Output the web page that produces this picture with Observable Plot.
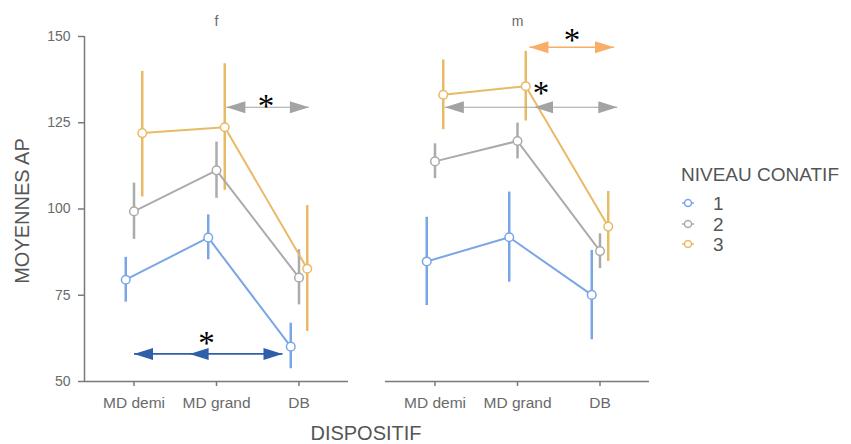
<!DOCTYPE html>
<html><head><meta charset="utf-8">
<script src="https://cdn.jsdelivr.net/npm/d3@7"></script>
<script src="https://cdn.jsdelivr.net/npm/@observablehq/plot@0.6"></script>
<style>
body{margin:0;background:#fff;font-family:"Liberation Sans",Arial,sans-serif;}
#wrap{position:relative;width:851px;height:444px;overflow:hidden;}
#wrap svg.plot{position:absolute;left:0;top:0;}
.lbl{position:absolute;color:#555;white-space:nowrap;line-height:1;}
</style></head><body><div id="wrap"></div>
<script>
// ---- data ----
const dispositifs = ["MD demi", "MD grand", "DB"];
const sexes = ["f", "m"];
const niveaux = ["1", "2", "3"];
const yTicks = [50, 75, 100, 125, 150];
// values in order: f/MD demi, f/MD grand, f/DB, m/MD demi, m/MD grand, m/DB
const mean1 = [79.5, 91.7, 60.1, 84.8, 91.8, 75.1];
const low1  = [73.0, 85.3, 53.7, 72.0, 78.8, 62.1];
const high1 = [86.0, 98.3, 66.9, 97.6, 104.9, 88.0];
const mean2 = [99.3, 111.2, 80.1, 113.8, 119.7, 87.8];
const low2  = [91.2, 103.1, 72.2, 108.8, 114.5, 82.7];
const high2 = [107.5, 119.4, 88.2, 118.9, 124.9, 92.8];
const mean3 = [122.0, 123.7, 82.7, 133.1, 135.6, 94.9];
const low3  = [103.5, 105.4, 64.5, 123.0, 125.5, 84.8];
const high3 = [139.9, 142.1, 101.0, 143.2, 145.7, 105.1];
// significance annotations (x in dispositif index units)
const sigSexe = ["f", "f", "m", "m"];
const sigY    = [129.5, 58.0, 146.9, 129.5];
const sigX1   = [1.12, 0.0, 1.145, 0.12];
const sigX2   = [2.12, 1.80, 2.17, 2.21];
const sigMidX = [null, 0.674, null, 1.20];
const starX   = [1.60, 0.88, 1.66, 1.284];
const starY   = [131.4, 62.7, 150.6, 135.3];

// ---- styles ----
const lineColors = ["#7BA6E6", "#ABABAB", "#E9BA66"];
const sigColors = ["#A3A3A3", "#2F5FA8", "#F8AE66", "#A3A3A3"];
const sigWidths = [1.2, 1.6, 1.6, 1.2];
const dodge = [-0.1, 0, 0.1];
const xDomain = [-0.6, 2.6];

const means = [mean1, mean2, mean3], lows = [low1, low2, low3], highs = [high1, high2, high3];
const rows = [];
niveaux.forEach((n, k) => sexes.forEach((s, si) => dispositifs.forEach((d, di) => {
  const i = si * 3 + di;
  rows.push({niveau: n, sexe: s, disp: d, xi: di + dodge[k], mean: means[k][i], lo: lows[k][i], hi: highs[k][i]});
})));

const headSymbol = {draw(ctx) { ctx.moveTo(0, 0); ctx.lineTo(-19, -6); ctx.lineTo(-19, 6); ctx.closePath(); }};

const sigMarks = [];
sigSexe.forEach((s, i) => {
  const seg = [{sexe: s, x1: sigX1[i], x2: sigX2[i], y: sigY[i]}];
  sigMarks.push(Plot.link(seg, {fx: "sexe", x1: "x1", x2: "x2", y1: "y", y2: "y", stroke: sigColors[i], strokeWidth: sigWidths[i]}));
  const heads = [{sexe: s, x: sigX2[i], y: sigY[i], r: 0}, {sexe: s, x: sigX1[i], y: sigY[i], r: 180}];
  if (sigMidX[i] != null) heads.push({sexe: s, x: sigMidX[i], y: sigY[i], r: 180});
  sigMarks.push(Plot.dot(heads, {fx: "sexe", x: "x", y: "y", rotate: "r", symbol: headSymbol, fill: sigColors[i], stroke: "none"}));
});
const stars = sigSexe.map((s, i) => ({sexe: s, x: starX[i], y: starY[i]}));

const chart = Plot.plot({
  width: 851, height: 444,
  marginLeft: 83, marginRight: 201, marginTop: 36, marginBottom: 63,
  style: {fontFamily: "Liberation Sans, Arial, sans-serif", color: "#6a6a6a", background: "transparent"},
  fx: {domain: sexes, paddingInner: 0.1225, paddingOuter: 0, label: null},
  x: {domain: xDomain},
  y: {domain: [50, 150]},
  color: {domain: niveaux, range: lineColors},
  marks: [
    Plot.ruleY([50], {stroke: "#7a7a7a", strokeWidth: 1.5}),
    Plot.ruleX([xDomain[0]], {fx: ["f"], y1: 50, y2: 150, stroke: "#7a7a7a", strokeWidth: 1.5}),
    Plot.axisY({ticks: yTicks, tickSize: 6, tickPadding: 8, fontSize: 14, label: null, stroke: "#7a7a7a", strokeWidth: 1.5}),
    Plot.axisX({ticks: [0, 1, 2], tickFormat: i => dispositifs[i], tickSize: 5, tickPadding: 10, fontSize: 15.5, label: null, stroke: "#7a7a7a", strokeWidth: 1.5}),
    Plot.axisFx({anchor: "top", tickSize: 0, tickPadding: 11, fontSize: 14, label: null}),
    Plot.ruleX(rows, {fx: "sexe", x: "xi", y1: "lo", y2: "hi", stroke: "niveau", strokeWidth: 2.5}),
    Plot.line(rows, {fx: "sexe", x: "xi", y: "mean", z: "niveau", stroke: "niveau", strokeWidth: 2}),
    Plot.dot(rows, {fx: "sexe", x: "xi", y: "mean", stroke: "niveau", fill: "white", r: 4.3, strokeWidth: 1.5}),
    ...sigMarks,
    Plot.text(stars, {fx: "sexe", x: "x", y: "y", text: () => "*", fontSize: 33, fill: "black", fontFamily: "Liberation Serif, serif", dy: 6})
  ]
});
const wrap = document.getElementById("wrap");
wrap.appendChild(chart);

function label(text, css) {
  const d = document.createElement("div");
  d.className = "lbl"; d.textContent = text; Object.assign(d.style, css); wrap.appendChild(d);
  return d;
}
label("DISPOSITIF", {left: "366px", top: "423px", fontSize: "20px", transform: "translateX(-50%)"});
label("MOYENNES AP", {left: "22px", top: "211px", fontSize: "20px", transform: "translate(-50%,-50%) rotate(-90deg)"});
label("NIVEAU CONATIF", {left: "681px", top: "165px", fontSize: "19px"});
niveaux.forEach((n, k) => {
  const y = 203 + k * 20.5;
  const sw = document.createElementNS("http://www.w3.org/2000/svg", "svg");
  sw.setAttribute("width", 20); sw.setAttribute("height", 12);
  sw.style.position = "absolute"; sw.style.left = "678px"; sw.style.top = (y - 6) + "px";
  sw.innerHTML = `<line x1="4" y1="6" x2="16" y2="6" stroke="${lineColors[k]}" stroke-width="1.5"/><circle cx="10" cy="6" r="3.5" fill="white" stroke="${lineColors[k]}" stroke-width="1.5"/>`;
  wrap.appendChild(sw);
  label(n, {left: "713px", top: (y - 9) + "px", fontSize: "19px"});
});
</script>
</body></html>
